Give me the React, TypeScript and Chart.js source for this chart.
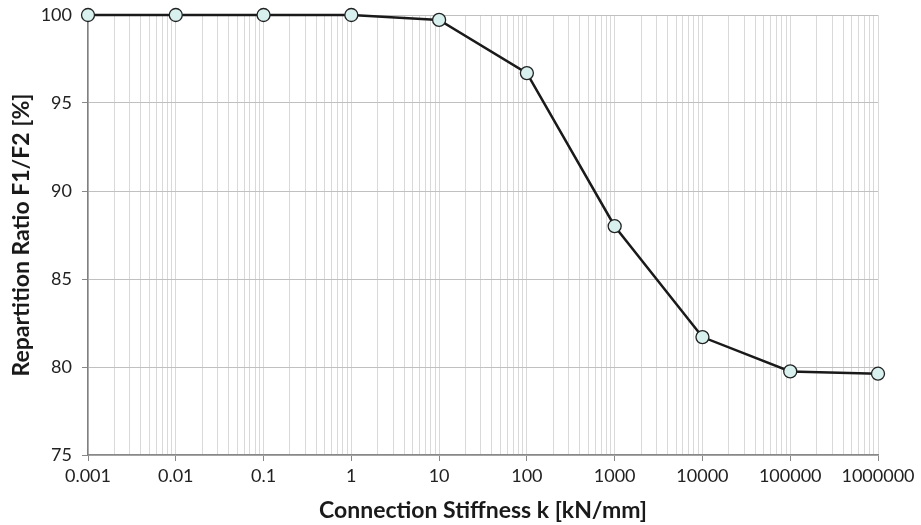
import React, { useEffect, useRef } from 'react';
import { Chart, registerables } from 'chart.js';
Chart.register(...registerables);

const decades = [0.001, 0.01, 0.1, 1, 10, 100, 1000, 10000, 100000, 1000000];
const xTickLabels = ['0.001', '0.01', '0.1', '1', '10', '100', '1000', '10000', '100000', '1000000'];
const minorMultipliers = [1, 2, 3, 4, 5, 6, 7, 8, 9];
const stiffness = [0.001, 0.01, 0.1, 1, 10, 100, 1000, 10000, 100000, 1000000];
const ratio = [100, 100, 100, 100, 99.72, 96.7, 88.0, 81.7, 79.75, 79.62];
const yMin = 75;
const yMax = 100;
const yStep = 5;

const FONT = 'Lato, "Open Sans", "Liberation Sans", sans-serif';

function decadeIndex(v: number): number {
  const l = Math.log10(v);
  for (let i = 0; i < decades.length; i++) {
    if (Math.abs(Math.log10(decades[i]) - l) < 1e-9) return i;
  }
  return -1;
}

export default function App() {
  const ref = useRef<HTMLCanvasElement>(null);
  useEffect(() => {
    document.body.style.margin = '0';
    const tickValues: number[] = [];
    for (let i = 0; i < decades.length - 1; i++) {
      for (const m of minorMultipliers) tickValues.push(Number((decades[i] * m).toPrecision(6)));
    }
    tickValues.push(decades[decades.length - 1]);

    const chart = new Chart(ref.current!, {
      type: 'line',
      data: {
        datasets: [
          {
            data: stiffness.map((x, i) => ({ x, y: ratio[i] })),
            borderColor: '#1a1a1a',
            borderWidth: 2.5,
            pointRadius: 6.5,
            pointHoverRadius: 6.5,
            pointBackgroundColor: '#d8f1ef',
            pointBorderColor: '#222222',
            pointBorderWidth: 1.3,
            tension: 0,
            clip: false as any,
          },
        ],
      },
      options: {
        animation: false,
        responsive: true,
        maintainAspectRatio: false,
        layout: { padding: { left: 0, right: 43, top: 15, bottom: 0 } },
        plugins: { legend: { display: false }, tooltip: { enabled: false } },
        scales: {
          x: {
            type: 'logarithmic',
            min: decades[0],
            max: decades[decades.length - 1],
            afterBuildTicks: (scale: any) => {
              scale.ticks = tickValues.map((v) => ({ value: v, major: decadeIndex(v) >= 0 }));
            },
            afterFit: (scale: any) => {
              scale.height = 70;
              scale.paddingLeft = 0;
              scale.paddingRight = 0;
            },
            ticks: {
              autoSkip: false,
              maxRotation: 0,
              minRotation: 0,
              padding: 4,
              color: '#222',
              font: { family: FONT, size: 18 },
              callback: (v: any) => {
                const i = decadeIndex(Number(v));
                return i >= 0 ? xTickLabels[i] : '';
              },
            },
            grid: {
              color: '#d9d9d9',
              lineWidth: 1,
              tickLength: 6,
              tickColor: (ctx: any) => (ctx.tick && decadeIndex(ctx.tick.value) >= 0 ? '#888' : 'rgba(0,0,0,0)'),
            },
            border: { color: '#888', width: 1.5 },
            title: {
              display: true,
              text: 'Connection Stiffness k [kN/mm]',
              color: '#1a1a1a',
              font: { family: FONT, size: 23, weight: 'bold' },
              padding: { top: 0, bottom: 1 },
            },
          },
          y: {
            min: yMin,
            max: yMax,
            afterFit: (scale: any) => {
              scale.width = 88;
              scale.paddingTop = 0;
              scale.paddingBottom = 0;
            },
            ticks: {
              stepSize: yStep,
              padding: 10,
              color: '#222',
              font: { family: FONT, size: 18 },
            },
            grid: {
              color: '#c0c0c0',
              lineWidth: 1,
              tickLength: 6,
              tickColor: '#888',
            },
            border: { color: '#808080', width: 1.5 },
            title: {
              display: true,
              text: 'Repartition Ratio F1/F2 [%]',
              color: '#1a1a1a',
              font: { family: FONT, size: 23, weight: 'bold' },
              padding: { top: 8, bottom: 0 },
            },
          },
        },
      },
    });
    return () => chart.destroy();
  }, []);
  return (
    <div style={{ position: 'relative', width: 921, height: 525 }}>
      <canvas ref={ref} />
    </div>
  );
}
